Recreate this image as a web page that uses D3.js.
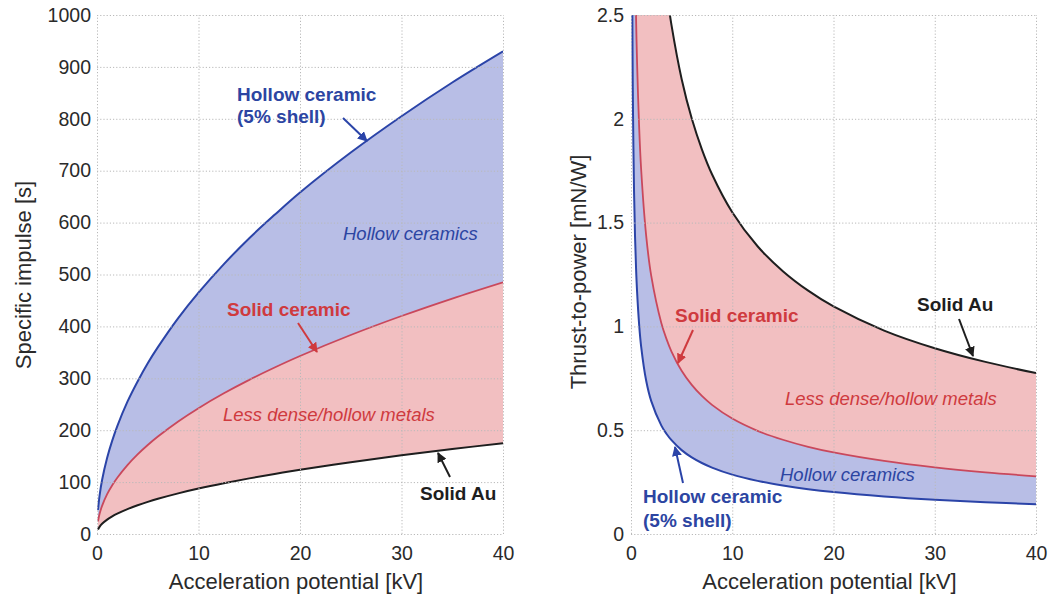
<!DOCTYPE html>
<html>
<head>
<meta charset="utf-8">
<script src="https://cdn.jsdelivr.net/npm/d3@7"></script>
<style>
  body { margin: 0; background: #fff; }
  svg { display: block; font-family: "Liberation Sans", Arial, Helvetica, sans-serif; }
</style>
</head>
<body>
<div id="chart-container"></div>
<script>
// Left panel: specific impulse [s] vs acceleration potential [kV]
const kvLeft = [0.1, 0.25, 0.5, 1, 1.5, 2, 3, 4, 5, 6, 8, 10, 12.5, 15, 17.5, 20, 25, 30, 35, 40];
const ispHollow = [46.5, 73.6, 104, 147, 180, 208, 255, 294, 329, 360, 416, 465, 520, 570, 615, 658, 735, 805, 870, 930];
const ispCeramic = [24.3, 38.4, 54.2, 76.7, 93.9, 108.4, 132.8, 153.4, 171.5, 187.8, 216.9, 242.5, 271.1, 297, 320.8, 343, 383.4, 420, 453.7, 485];
const ispAu = [8.8, 13.8, 19.6, 27.7, 33.9, 39.1, 47.9, 55.3, 61.9, 67.8, 78.3, 87.5, 97.8, 107.2, 115.7, 123.7, 138.4, 151.6, 163.7, 175];

// Right panel: thrust-to-power [mN/W] vs acceleration potential [kV]
const kvRight = [0.1, 0.15, 0.2, 0.3, 0.4, 0.5, 0.6, 0.8, 1, 1.5, 2, 3, 3.5, 4, 5, 6, 7, 8, 10, 12.5, 15, 17.5, 20, 25, 30, 35, 40];
const tpHollow = [2.86, 2.335, 2.022, 1.651, 1.43, 1.279, 1.168, 1.011, 0.904, 0.738, 0.640, 0.522, 0.483, 0.452, 0.404, 0.369, 0.342, 0.320, 0.286, 0.256, 0.234, 0.216, 0.202, 0.181, 0.165, 0.153, 0.143];
const tpCeramic = [5.56, 4.54, 3.93, 3.21, 2.78, 2.487, 2.270, 1.966, 1.758, 1.436, 1.243, 1.015, 0.940, 0.879, 0.786, 0.718, 0.665, 0.622, 0.556, 0.497, 0.454, 0.420, 0.393, 0.352, 0.321, 0.297, 0.278];
const tpAu = [15.5, 12.66, 10.96, 8.95, 7.75, 6.93, 6.33, 5.48, 4.90, 4.00, 3.466, 2.830, 2.620, 2.451, 2.192, 2.001, 1.853, 1.733, 1.550, 1.386, 1.266, 1.172, 1.096, 0.980, 0.895, 0.829, 0.775];

const xTicks = [0, 10, 20, 30, 40];
const yTicksLeft = [0, 100, 200, 300, 400, 500, 600, 700, 800, 900, 1000];
const yTicksRight = [0, 0.5, 1, 1.5, 2, 2.5];
const yTickLabelsRight = ['0', '0.5', '1', '1.5', '2', '2.5'];

const blueLine = '#2b44a8', blueFill = '#b8bee6', blueText = '#2c45a2';
const redLine = '#c9485c', redFill = '#f2bfc1', redText = '#cf3a3e';
const blackLine = '#1e1e1e';

const width = 1053, height = 598;
const svg = d3.select('#chart-container').append('svg')
  .attr('width', width).attr('height', height);

const defs = svg.append('defs');
[['blue', blueLine], ['red', redText], ['black', blackLine]].forEach(([id, c]) => {
  defs.append('marker')
    .attr('id', 'arrow-' + id)
    .attr('viewBox', '0 0 10 10')
    .attr('refX', 9).attr('refY', 5)
    .attr('markerWidth', 5).attr('markerHeight', 5)
    .attr('markerUnits', 'strokeWidth')
    .attr('orient', 'auto')
    .append('path')
    .attr('d', 'M0,0 L10,5 L0,10 Z')
    .attr('fill', c);
});

// bands: [upper key, lower key, colour]
function panel(opts) {
  const x = d3.scaleLinear().domain([0, 40]).range(opts.xRange);
  const y = d3.scaleLinear().domain(opts.yDomain).range([534, 15]);
  const g = svg.append('g');

  const clipId = 'clip-' + opts.name;
  defs.append('clipPath').attr('id', clipId)
    .append('rect')
    .attr('x', x(0)).attr('y', y(opts.yDomain[1]))
    .attr('width', x(40) - x(0)).attr('height', y(0) - y(opts.yDomain[1]));

  const rows = opts.kv.map((k, i) => ({ k, top: opts.top[i], mid: opts.mid[i], low: opts.low[i] }));
  const curve = d3.curveCatmullRom.alpha(0.5);

  const plot = g.append('g').attr('clip-path', `url(#${clipId})`);
  plot.append('path').datum(rows)
    .attr('d', d3.area().x(d => x(d.k)).y0(d => y(d.mid)).y1(d => y(d.top)).curve(curve))
    .attr('fill', opts.upperFill);
  plot.append('path').datum(rows)
    .attr('d', d3.area().x(d => x(d.k)).y0(d => y(d.low)).y1(d => y(d.mid)).curve(curve))
    .attr('fill', opts.lowerFill);

  // grid + axes
  const gx = g.append('g').attr('transform', `translate(0,${y(0)})`)
    .call(d3.axisBottom(x).tickValues(xTicks).tickSize(-(y(0) - y(opts.yDomain[1]))).tickPadding(12));
  const gy = g.append('g').attr('transform', `translate(${x(0)},0)`)
    .call(d3.axisLeft(y).tickValues(opts.yTicks).tickFormat((d, i) => opts.yLabels[i])
      .tickSize(-(x(40) - x(0))).tickPadding(opts.yPad));
  [gx, gy].forEach(a => {
    a.select('.domain').remove();
    a.selectAll('line').attr('stroke', '#b9b9b9').attr('stroke-width', 1).attr('stroke-dasharray', '1.2,2');
    a.selectAll('text').attr('font-size', 19.5).attr('fill', '#2a2a2a');
  });

  // curves
  const line = key => d3.line().x(d => x(d.k)).y(d => y(d[key])).curve(curve);
  plot.append('path').datum(rows).attr('d', line('top'))
    .attr('fill', 'none').attr('stroke', opts.topColor).attr('stroke-width', 2);
  plot.append('path').datum(rows).attr('d', line('mid'))
    .attr('fill', 'none').attr('stroke', redLine).attr('stroke-width', 1.8);
  plot.append('path').datum(rows).attr('d', line('low'))
    .attr('fill', 'none').attr('stroke', opts.lowColor).attr('stroke-width', 2);

  // axis titles
  g.append('text')
    .attr('x', (x(0) + x(40)) / 2 - 4).attr('y', 589)
    .attr('text-anchor', 'middle').attr('font-size', 22).attr('fill', '#2a2a2a')
    .text('Acceleration potential [kV]');
  g.append('text')
    .attr('transform', `translate(${opts.yTitleX},${opts.yTitleY}) rotate(-90)`)
    .attr('text-anchor', 'middle').attr('font-size', 22).attr('fill', '#2a2a2a')
    .text(opts.yTitle);

  return g;
}

function label(g, x, y, text, color, style) {
  g.append('text').attr('x', x).attr('y', y)
    .attr('font-size', style === 'bold' ? 19 : 18.5)
    .attr('font-weight', style === 'bold' ? 'bold' : 'normal')
    .attr('font-style', style === 'italic' ? 'italic' : 'normal')
    .attr('fill', color).text(text);
}

function arrow(g, x1, y1, x2, y2, color, id) {
  g.append('line').attr('x1', x1).attr('y1', y1).attr('x2', x2).attr('y2', y2)
    .attr('stroke', color).attr('stroke-width', 2)
    .attr('marker-end', `url(#arrow-${id})`);
}

const left = panel({
  name: 'left', xRange: [97, 503], yDomain: [0, 1000], yTicks: yTicksLeft,
  yLabels: yTicksLeft.map(String), yPad: 6,
  kv: kvLeft, top: ispHollow, mid: ispCeramic, low: ispAu,
  upperFill: blueFill, lowerFill: redFill,
  topColor: blueLine, lowColor: blackLine,
  yTitle: 'Specific impulse [s]', yTitleX: 31, yTitleY: 275
});

const right = panel({
  name: 'right', xRange: [631, 1036], yDomain: [0, 2.5], yTicks: yTicksRight,
  yLabels: yTickLabelsRight, yPad: 7,
  kv: kvRight, top: tpAu, mid: tpCeramic, low: tpHollow,
  upperFill: redFill, lowerFill: blueFill,
  topColor: blackLine, lowColor: blueLine,
  yTitle: 'Thrust-to-power [mN/W]', yTitleX: 586, yTitleY: 272
});

// left annotations
label(left, 237, 101, 'Hollow ceramic', blueText, 'bold');
label(left, 237, 123, '(5% shell)', blueText, 'bold');
arrow(left, 343, 118, 367, 141, blueLine, 'blue');
label(left, 343, 240, 'Hollow ceramics', blueText, 'italic');
label(left, 227, 316, 'Solid ceramic', redText, 'bold');
arrow(left, 298, 323, 317, 352, redText, 'red');
label(left, 223, 421, 'Less dense/hollow metals', redText, 'italic');
label(left, 420, 500, 'Solid Au', blackLine, 'bold');
arrow(left, 450, 477, 438, 453, blackLine, 'black');

// right annotations
label(right, 917, 311, 'Solid Au', blackLine, 'bold');
arrow(right, 959, 319, 973, 356, blackLine, 'black');
label(right, 675, 322, 'Solid ceramic', redText, 'bold');
arrow(right, 693, 330, 678, 363, redText, 'red');
label(right, 785, 405, 'Less dense/hollow metals', redText, 'italic');
label(right, 780, 481, 'Hollow ceramics', blueText, 'italic');
label(right, 643, 503, 'Hollow ceramic', blueText, 'bold');
label(right, 643, 527, '(5% shell)', blueText, 'bold');
arrow(right, 683, 483, 675, 447, blueLine, 'blue');
</script>
</body>
</html>
